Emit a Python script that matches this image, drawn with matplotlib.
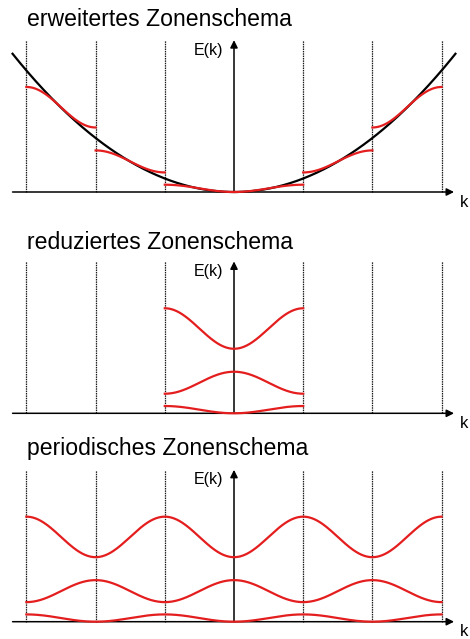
import numpy as np
import matplotlib
matplotlib.use("Agg")
import matplotlib.pyplot as plt

plt.rcParams['font.family'] = ['Liberation Sans', 'DejaVu Sans']

# ---- data (k in units of pi/a, E in units of free-electron E(k=1)) ----
titles = ["erweitertes Zonenschema", "reduziertes Zonenschema", "periodisches Zonenschema"]
zone_boundaries = [-3, -2, -1, 1, 2, 3]
band_bottom = [0.0, 1.45, 4.78]   # energy at lower band edge
band_top = [0.54, 3.08, 7.78]     # energy at upper band edge
free_k_range = [-3.2, 3.2]        # extent of free-electron parabola
axis_label_E = "E(k)"
axis_label_k = "k"

RED = '#e41e1e'

W, H = 470, 639
fig = plt.figure(figsize=(W / 100, H / 100), dpi=100)

# panel pixel bands: (top_px, bottom_px, baseline_px)
panels = [(0, 210, 192.0), (210, 430, 413.3), (430, 639, 621.7)]
px_per_E = 13.5
px_per_k = 69.2
x0 = 234.0


def smooth(t):
    return (1 - np.cos(np.pi * t)) / 2


axes = []
for i, (top, bot, base) in enumerate(panels):
    ax = fig.add_axes([0, 1 - bot / H, 1, (bot - top) / H])
    ax.set_xlim(-x0 / px_per_k, (W - x0) / px_per_k)
    ax.set_ylim((base - bot) / px_per_E, (base - top) / px_per_E)
    ax.axis('off')
    axes.append(ax)

    # dashed zone boundaries
    for kb in zone_boundaries:
        ax.plot([kb, kb], [0, 11.25], color='#1a1a1a', lw=0.9,
                linestyle=(0, (1.2, 0.7)), zorder=1)
    # k axis with arrow
    ax.annotate('', xy=(3.18, 0), xytext=(-3.2, 0),
                arrowprops=dict(arrowstyle='-|>', lw=1.1, color='black',
                                mutation_scale=11, shrinkA=0, shrinkB=0),
                zorder=3)
    # E axis with arrow
    ax.annotate('', xy=(0, 11.25), xytext=(0, 0),
                arrowprops=dict(arrowstyle='-|>', lw=1.1, color='black',
                                mutation_scale=11, shrinkA=0, shrinkB=0),
                zorder=3)
    ax.text(-0.15, 10.5, axis_label_E, ha='right', va='center', fontsize=11.5)
    ax.text(3.33, -0.75, axis_label_k, ha='center', va='center', fontsize=12)
    ax.text(27 / px_per_k - x0 / px_per_k, 12.8 if i != 1 else 12.65, titles[i],
            ha='left', va='center', fontsize=16.6)

# ---- extended zone scheme ----
ax = axes[0]
kk = np.linspace(free_k_range[0], free_k_range[1], 400)
ax.plot(kk, kk ** 2, color='black', lw=1.6, zorder=4)
for n in range(3):
    lo, hi = band_bottom[n], band_top[n]
    for sgn in (-1, 1):
        t = np.linspace(0, 1, 100)
        k = sgn * (n + t)
        ax.plot(k, lo + (hi - lo) * smooth(t), color=RED, lw=1.6, zorder=5)

# ---- reduced zone scheme ----
ax = axes[1]
k = np.linspace(-1, 1, 200)
for n in range(3):
    lo, hi = band_bottom[n], band_top[n]
    s = smooth(np.abs(k))
    if n % 2 == 1:
        s = 1 - s
    ax.plot(k, lo + (hi - lo) * s, color=RED, lw=1.6, zorder=5)

# ---- periodic zone scheme ----
ax = axes[2]
k = np.linspace(-3, 3, 600)
for n in range(3):
    lo, hi = band_bottom[n], band_top[n]
    s = smooth(k)  # period 2
    if n % 2 == 1:
        s = 1 - s
    ax.plot(k, lo + (hi - lo) * s, color=RED, lw=1.6, zorder=5)

fig.savefig('out.png', dpi=100)
